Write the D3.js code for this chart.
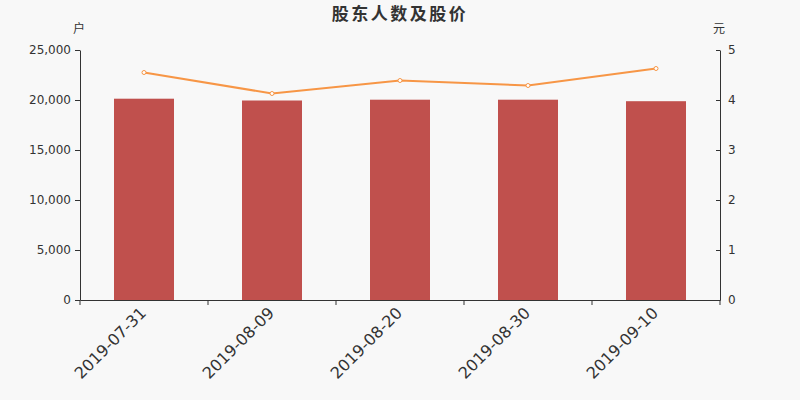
<!DOCTYPE html>
<html>
<head>
<meta charset="utf-8">
<script src="https://cdn.jsdelivr.net/npm/d3@7"></script>
<style>
  body { margin: 0; background: #f8f8f8; }
  svg { display: block; font-family: "Noto Sans CJK SC", "DejaVu Sans", sans-serif; }
</style>
</head>
<body>
<div id="chart"></div>
<script>
// data
const dates = ['2019-07-31', '2019-08-09', '2019-08-20', '2019-08-30', '2019-09-10'];
const holders = [20130, 19950, 20030, 20030, 19880];
const prices = [4.55, 4.13, 4.39, 4.29, 4.63];
const leftTicks = [0, 5000, 10000, 15000, 20000, 25000];
const rightTicks = [0, 1, 2, 3, 4, 5];

const width = 800, height = 400;
const margin = {top: 50, right: 80, bottom: 100, left: 80};

let svg = d3.select('#chart')
    .append('svg')
    .attr('width', width)
    .attr('height', height);

svg.append('rect')
    .attr('width', width)
    .attr('height', height)
    .attr('fill', '#f8f8f8');

let x = d3.scaleBand()
    .domain(dates)
    .range([margin.left, width - margin.right]);

let yLeft = d3.scaleLinear()
    .domain([0, 25000])
    .range([height - margin.bottom, margin.top]);

let yRight = d3.scaleLinear()
    .domain([0, 5])
    .range([height - margin.bottom, margin.top]);

/* Title */
svg.append('text')
    .attr('x', width / 2)
    .attr('y', 20)
    .attr('text-anchor', 'middle')
    .attr('font-size', 17)
    .attr('font-weight', 'bold')
    .attr('letter-spacing', 2.5)
    .attr('fill', '#333')
    .text('股东人数及股价');

/* Unit labels */
svg.append('text')
    .attr('x', 79)
    .attr('y', 33)
    .attr('text-anchor', 'middle')
    .attr('font-size', 12)
    .attr('fill', '#333')
    .text('户');

svg.append('text')
    .attr('x', 719)
    .attr('y', 33)
    .attr('text-anchor', 'middle')
    .attr('font-size', 12)
    .attr('fill', '#333')
    .text('元');

/* Bars */
let barWidth = 60;
svg.append('g')
    .selectAll('rect')
    .data(dates)
    .join('rect')
    .attr('x', d => x(d) + x.bandwidth() / 2 - barWidth / 2)
    .attr('y', (d, i) => yLeft(holders[i]))
    .attr('width', barWidth)
    .attr('height', (d, i) => yLeft(0) - yLeft(holders[i]))
    .attr('fill', '#c0504d');

/* Price line */
let line = d3.line()
    .x((d, i) => x(dates[i]) + x.bandwidth() / 2)
    .y(d => yRight(d));

svg.append('path')
    .datum(prices)
    .attr('d', line)
    .attr('fill', 'none')
    .attr('stroke', '#f79646')
    .attr('stroke-width', 2);

svg.append('g')
    .selectAll('circle')
    .data(prices)
    .join('circle')
    .attr('cx', (d, i) => x(dates[i]) + x.bandwidth() / 2)
    .attr('cy', d => yRight(d))
    .attr('r', 2)
    .attr('fill', '#fff')
    .attr('stroke', '#f79646')
    .attr('stroke-width', 1);

/* Axes */
function styleAxis(g) {
  g.selectAll('path, line').attr('stroke', '#333');
  g.selectAll('text')
      .attr('fill', '#333')
      .attr('font-family', '"DejaVu Sans", sans-serif');
}

let leftAxis = svg.append('g')
    .attr('transform', `translate(${margin.left},0)`)
    .call(d3.axisLeft(yLeft)
        .tickValues(leftTicks)
        .tickSize(5)
        .tickSizeOuter(0)
        .tickPadding(4)
        .tickFormat(d3.format(',')))
    .call(styleAxis);
leftAxis.selectAll('text').attr('font-size', 12);

let rightAxis = svg.append('g')
    .attr('transform', `translate(${width - margin.right},0)`)
    .call(d3.axisRight(yRight)
        .tickValues(rightTicks)
        .tickSizeInner(-4)
        .tickSizeOuter(0)
        .tickPadding(8)
        .tickFormat(d3.format('d')))
    .call(styleAxis);
rightAxis.selectAll('text').attr('font-size', 12);

let xAxis = svg.append('g')
    .attr('transform', `translate(0,${height - margin.bottom})`)
    .call(d3.axisBottom(x).tickSize(0).tickSizeOuter(0))
    .call(styleAxis);

// tick marks sit on the band boundaries
xAxis.selectAll('.tick line').remove();
xAxis.selectAll('.boundary')
    .data(dates.concat(['end']))
    .join('line')
    .attr('class', 'boundary')
    .attr('x1', (d, i) => margin.left + i * x.bandwidth())
    .attr('x2', (d, i) => margin.left + i * x.bandwidth())
    .attr('y1', 0)
    .attr('y2', 5)
    .attr('stroke', '#333');

xAxis.selectAll('.tick text')
    .attr('font-size', 16)
    .attr('text-anchor', 'end')
    .attr('dy', 0)
    .attr('transform', 'translate(1,12) rotate(-45)');
</script>
</body>
</html>
